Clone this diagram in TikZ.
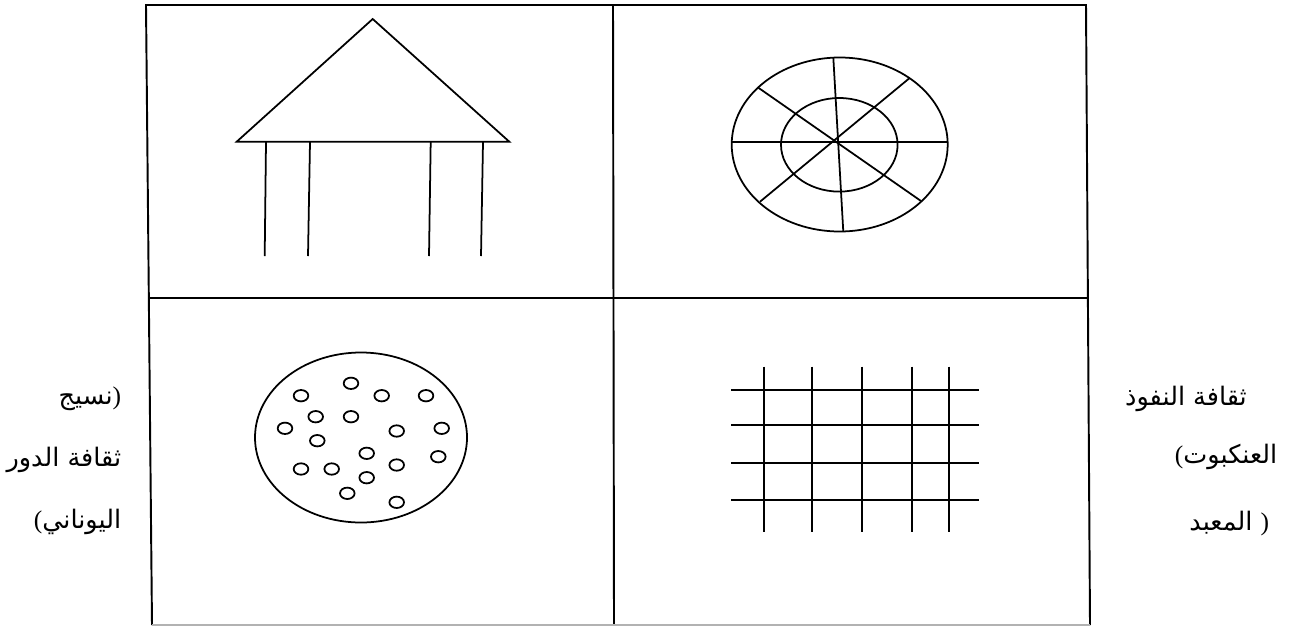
\documentclass[tikz,border=0pt]{standalone}
\usepackage{fontspec}
\newfontfamily\arabicfont[Script=Arabic]{DejaVu Sans}
\newfontfamily\parenfont{Liberation Serif}
\TeXXeTstate=1
\usetikzlibrary{positioning}

\newcommand{\arb}[1]{{\arabicfont\beginR #1\endR}}
\newcommand{\lpar}{{\parenfont(}}
\newcommand{\rpar}{{\parenfont)}}

\begin{document}
\begin{tikzpicture}[
  x=0.02cm, y=-0.02cm,
  line width=1pt,
  frame/.style={draw, line width=1.1pt},
  lab/.style={font=\fontsize{14.5}{16}\selectfont, inner sep=0pt}
]
\useasboundingbox (0,0) rectangle (1291,626);

% ---------- Frame ----------
\coordinate (tl) at (146,5);
\coordinate (tm) at (613,5);
\coordinate (tr) at (1086,5);
\coordinate (bl) at (152,625);
\coordinate (bm) at (614,625);
\coordinate (br) at (1090,625);
\draw[frame] (bl) -- (tl) -- (tr) -- (br);
\draw[frame] (tm) -- (bm);
\draw[frame] (150,298) -- (1088,298);
\draw[gray!60, line width=0.8pt] (bl) -- (br);

% ---------- Temple ----------
\draw (236.7,141.7) -- (372.7,19) -- (509.3,141.7) -- cycle;
\draw (266,142) -- (264.7,256);
\draw (310,142) -- (308,256);
\draw (430.7,142) -- (429,256);
\draw (483,142) -- (481,256);

% ---------- Web ----------
\draw (839.7,144.5) ellipse [x radius=108, y radius=87];
\draw (839.3,144.8) ellipse [x radius=58.3, y radius=46.8];
\draw (731.7,141.7) -- (947.7,141.7);
\draw (833.3,57.3) -- (843.3,231.7);
\draw (758.3,87.7) -- (921,201);
\draw (909.3,78.3) -- (760,201.7);

% ---------- Cluster ----------
\draw (361,437.5) ellipse [x radius=106, y radius=85];
\foreach \cx/\cy in {351/383.3, 301/395.7, 381.7/395.7, 426/395.7,
  315.7/416.7, 351/416.7, 285/428.3, 396.7/431, 441.7/428.3,
  317.3/440.7, 366.7/453.3, 438.3/456.7, 301/469, 331.7/469,
  396.7/465, 366.7/477.7, 347.3/493.3, 396.7/502.3}
  \draw (\cx,\cy) ellipse [x radius=7.3, y radius=5.7];

% ---------- Net ----------
\foreach \gy in {390, 425, 463, 500}
  \draw[line width=1.1pt] (731,\gy) -- (979.3,\gy);
\foreach \gx in {764, 812.3, 862, 912.3, 949}
  \draw (\gx,366.7) -- (\gx,531.7);

% ---------- Labels ----------
\node[lab, anchor=east] (ltop) at (122,399) {\arb{نسيج}\rpar};
\node[lab, anchor=east] (lmid) at (122,460) {\arb{ثقافة الدور}};
\node[lab, anchor=east] (lbot) at (122,522) {\lpar\arb{اليوناني}};
\node[lab] (rtop) at (1186,399) {\arb{ثقافة النفوذ}};
\node[lab, anchor=east] (rmid) at (1278,457) {\lpar\arb{العنكبوت}};
\node[lab, anchor=east] (rbot) at (1270,524) {\arb{المعبد}\ \rpar};
\end{tikzpicture}
\end{document}
